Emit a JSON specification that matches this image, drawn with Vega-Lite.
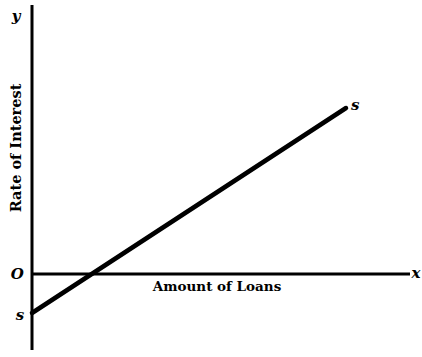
{
  "$schema": "https://vega.github.io/schema/vega-lite/v6.json",
  "autosize": {"type": "fit", "contains": "padding"},
  "width": 422,
  "height": 357,
  "padding": 0,
  "background": "white",
  "config": {"view": {"stroke": null}},
  "datasets": {
    "axes": [
      {"name": "y axis", "x1": 0, "y1": -19, "x2": 0, "y2": 67.25},
      {"name": "x axis", "x1": 0, "y1": 0, "x2": 94.5, "y2": 0}
    ],
    "curve": [
      {"amount": 0, "rate": -9.75},
      {"amount": 78.5, "rate": 41.5}
    ],
    "letters": [
      {"label": "y", "x": -4, "y": 64.5},
      {"label": "O", "x": -3.7, "y": 0},
      {"label": "s", "x": -3, "y": -10.3},
      {"label": "s", "x": 80.8, "y": 42.3},
      {"label": "x", "x": 96, "y": 0.2}
    ],
    "titles": [
      {"label": "Amount of Loans", "x": 46.25, "y": -3.2, "angle": 0, "size": 13.5},
      {"label": "Rate of Interest", "x": -3.75, "y": 31.5, "angle": 270, "size": 14.5}
    ]
  },
  "layer": [
    {
      "data": {"name": "axes"},
      "mark": {"type": "rule", "color": "black", "strokeWidth": 3},
      "encoding": {
        "x": {"field": "x1", "type": "quantitative", "scale": {"domain": [-8, 97.5], "nice": false, "zero": false}, "axis": null},
        "y": {"field": "y1", "type": "quantitative", "scale": {"domain": [-20.75, 68.5], "nice": false, "zero": false}, "axis": null},
        "x2": {"field": "x2"},
        "y2": {"field": "y2"}
      }
    },
    {
      "data": {"name": "curve"},
      "mark": {"type": "line", "color": "black", "strokeWidth": 4.5, "strokeCap": "round"},
      "encoding": {
        "x": {"field": "amount", "type": "quantitative"},
        "y": {"field": "rate", "type": "quantitative"}
      }
    },
    {
      "data": {"name": "letters"},
      "mark": {"type": "text", "font": "DejaVu Serif", "fontWeight": "bold", "fontStyle": "italic", "fontSize": 15, "color": "black", "baseline": "middle", "align": "center"},
      "encoding": {
        "x": {"field": "x", "type": "quantitative"},
        "y": {"field": "y", "type": "quantitative"},
        "text": {"field": "label"}
      }
    },
    {
      "data": {"name": "titles"},
      "mark": {"type": "text", "font": "DejaVu Serif", "fontWeight": "bold", "color": "black", "baseline": "middle", "align": "center"},
      "encoding": {
        "x": {"field": "x", "type": "quantitative"},
        "y": {"field": "y", "type": "quantitative"},
        "text": {"field": "label"},
        "angle": {"field": "angle", "type": "quantitative", "scale": null},
        "size": {"field": "size", "type": "quantitative", "scale": null}
      }
    }
  ]
}
